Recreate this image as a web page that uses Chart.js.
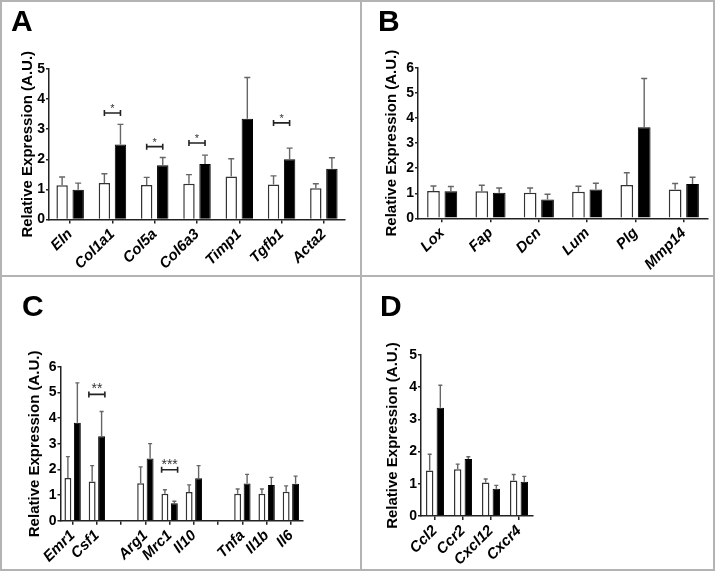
<!DOCTYPE html>
<html>
<head>
<meta charset="utf-8">
<script src="https://cdn.jsdelivr.net/npm/chart.js@4.4.1/dist/chart.umd.min.js"></script>
<style>
html,body{margin:0;padding:0;background:#fff;}
body{width:716px;height:572px;position:relative;overflow:hidden;font-family:"Liberation Sans",Arial,sans-serif;}
canvas{position:absolute;}
.frame{position:absolute;left:0;top:0;width:715px;height:571px;box-sizing:border-box;border:2px solid #b3b3b3;pointer-events:none;}
.vdiv{position:absolute;left:360px;top:0;width:2px;height:571px;background:#b3b3b3;}
.hdiv{position:absolute;left:0;top:275px;width:715px;height:2px;background:#b3b3b3;}
.letter{position:absolute;font:bold 30px/30px "Liberation Sans",Arial,sans-serif;color:#000;}
</style>
</head>
<body>
<canvas id="cA" width="360" height="276" style="left:0;top:0"></canvas>
<canvas id="cB" width="355" height="276" style="left:361px;top:0"></canvas>
<canvas id="cC" width="360" height="294" style="left:0;top:277px"></canvas>
<canvas id="cD" width="355" height="294" style="left:361px;top:277px"></canvas>
<div class="frame"></div><div class="vdiv"></div><div class="hdiv"></div>
<div class="letter" style="left:11px;top:6px">A</div>
<div class="letter" style="left:378px;top:6px">B</div>
<div class="letter" style="left:22px;top:291px">C</div>
<div class="letter" style="left:380px;top:291px">D</div>
<script>
// ---------- Panel A ----------
const catsA = ['Eln','Col1a1','Col5a','Col6a3','Timp1','Tgfb1','Acta2'];
const ctrlA = [1.14, 1.21, 1.15, 1.19, 1.43, 1.16, 1.04];
const ctrlAsd = [0.27, 0.31, 0.25, 0.30, 0.59, 0.29, 0.15];
const treatA = [0.99, 2.49, 1.80, 1.84, 3.35, 2.00, 1.69];
const treatAsd = [0.22, 0.67, 0.26, 0.30, 1.37, 0.37, 0.36];
const sigA = [{i:1, y:3.54, t:'*'}, {i:2, y:2.42, t:'*'}, {i:3, y:2.54, t:'*'}, {i:5, y:3.21, t:'*'}];
const ticksA = [0,1,2,3,4,5];

// ---------- Panel B ----------
const catsB = ['Lox','Fap','Dcn','Lum','Plg','Mmp14'];
const ctrlB = [1.09, 1.08, 1.02, 1.06, 1.33, 1.15];
const ctrlBsd = [0.20, 0.24, 0.19, 0.22, 0.49, 0.24];
const treatB = [1.08, 1.02, 0.75, 1.15, 3.63, 1.37];
const treatBsd = [0.19, 0.19, 0.21, 0.25, 1.95, 0.27];
const ticksB = [0,1,2,3,4,5,6];

// ---------- Panel C ----------
const catsC = ['Emr1','Csf1','','Arg1','Mrc1','Il10','','Tnfa','Il1b','Il6'];
const ctrlC = [1.67, 1.53, null, 1.46, 1.05, 1.12, null, 1.05, 1.05, 1.13];
const ctrlCsd = [0.83, 0.62, null, 0.64, 0.16, 0.28, null, 0.19, 0.19, 0.23];
const treatC = [3.82, 3.30, null, 2.43, 0.68, 1.66, null, 1.45, 1.39, 1.44];
const treatCsd = [1.56, 0.96, null, 0.58, 0.08, 0.49, null, 0.36, 0.30, 0.30];
const sigC = [{i:1, y:4.93, t:'**'}, {i:4, y:1.99, t:'***'}];
const ticksC = [0,1,2,3,4,5,6];

// ---------- Panel D ----------
const catsD = ['Ccl2','Ccr2','Cxcl12','Cxcr4'];
const ctrlD = [1.41, 1.45, 1.04, 1.10];
const ctrlDsd = [0.51, 0.16, 0.11, 0.19];
const treatD = [3.36, 1.77, 0.85, 1.06];
const treatDsd = [0.70, 0.07, 0.10, 0.17];
const ticksD = [0,1,2,3,4,5];

const FONT = '"Liberation Sans", Arial, sans-serif';

const errPlugin = {
  id: 'errbars',
  afterDatasetsDraw(chart, args, opts) {
    const ctx = chart.ctx, ys = chart.scales.y;
    chart.data.datasets.forEach((ds, di) => {
      const meta = chart.getDatasetMeta(di);
      meta.data.forEach((bar, i) => {
        const v = ds.data[i], sd = ds.sd[i];
        if (v == null || sd == null) return;
        const yt = ys.getPixelForValue(v + sd);
        const cap = opts.cap || 3;
        ctx.save();
        ctx.strokeStyle = '#666';
        ctx.lineWidth = 1.4;
        ctx.beginPath();
        ctx.moveTo(bar.x, bar.y);
        ctx.lineTo(bar.x, yt);
        ctx.moveTo(bar.x - cap, yt);
        ctx.lineTo(bar.x + cap, yt);
        ctx.stroke();
        ctx.restore();
      });
    });
    const sig = opts.sig || [];
    sig.forEach(s => {
      const a = chart.getDatasetMeta(0).data[s.i], b = chart.getDatasetMeta(1).data[s.i];
      const cx = (a.x + b.x) / 2, half = Math.max(Math.abs(b.x - a.x) / 2, 8);
      const y = ys.getPixelForValue(s.y);
      ctx.save();
      ctx.strokeStyle = '#222';
      ctx.lineWidth = 1.6;
      ctx.beginPath();
      ctx.moveTo(cx - half, y); ctx.lineTo(cx + half, y);
      ctx.moveTo(cx - half, y - 3); ctx.lineTo(cx - half, y + 3);
      ctx.moveTo(cx + half, y - 3); ctx.lineTo(cx + half, y + 3);
      ctx.stroke();
      ctx.fillStyle = '#333';
      ctx.font = (opts.starSize || 11) + 'px ' + FONT;
      ctx.textAlign = 'center';
      ctx.textBaseline = 'alphabetic';
      ctx.fillText(s.t, cx, y - 1);
      ctx.restore();
    });
  }
};

function makeChart(id, cfg) {
  const geo = cfg.geo;
  return new Chart(document.getElementById(id), {
    type: 'bar',
    data: {
      labels: cfg.cats,
      datasets: [
        {data: cfg.ctrl, sd: cfg.ctrlSd, backgroundColor: '#ffffff', borderColor: '#333', borderWidth: 1.5,
         barPercentage: cfg.barPct, categoryPercentage: cfg.catPct},
        {data: cfg.treat, sd: cfg.treatSd, backgroundColor: '#000000', borderColor: '#000', borderWidth: 1,
         barPercentage: cfg.barPct, categoryPercentage: cfg.catPct}
      ]
    },
    options: {
      responsive: false,
      animation: false,
      devicePixelRatio: 1,
      layout: {padding: {left: 0, top: geo.top, right: geo.right, bottom: 0}},
      plugins: {legend: {display: false}, tooltip: {enabled: false},
        errbars: {sig: cfg.sig, cap: cfg.cap, starSize: cfg.starSize}},
      scales: {
        x: {
          grid: {display: true, drawOnChartArea: false, drawTicks: true, tickLength: 4, offset: false, color: '#222', lineWidth: 1.5},
          border: {display: true, color: '#222', width: 1.5},
          ticks: {autoSkip: false, minRotation: 45, maxRotation: 45, padding: 2, color: '#000',
                  font: {family: FONT, size: 15, weight: 'bold', style: 'italic'}},
          afterFit(s) { s.height = geo.xh; }
        },
        y: {
          min: 0, max: cfg.ticks[cfg.ticks.length - 1],
          afterBuildTicks(s) { s.ticks = cfg.ticks.map(v => ({value: v})); },
          grid: {display: true, drawOnChartArea: false, drawTicks: true, tickLength: 3, color: '#222', lineWidth: 1.5},
          border: {display: true, color: '#222', width: 1.5},
          ticks: {padding: 1, color: '#000', font: {family: FONT, size: 14, weight: 'bold'}},
          title: {display: true, text: 'Relative Expression (A.U.)', color: '#000',
                  font: {family: FONT, size: 15, weight: 'bold'}, padding: {top: geo.tpad, bottom: 0}},
          afterFit(s) { s.width = geo.left; }
        }
      }
    },
    plugins: [errPlugin]
  });
}

makeChart('cA', {cats: catsA, ctrl: ctrlA, ctrlSd: ctrlAsd, treat: treatA, treatSd: treatAsd, sig: sigA, ticks: ticksA,
  barPct: 0.71, catPct: 0.76, cap: 3, starSize: 11,
  geo: {left: 49, top: 69, right: 15, xh: 56.5, tpad: 19}});
makeChart('cB', {cats: catsB, ctrl: ctrlB, ctrlSd: ctrlBsd, treat: treatB, treatSd: treatBsd, sig: [], ticks: ticksB,
  barPct: 0.73, catPct: 0.72, cap: 3,
  geo: {left: 57, top: 68, right: 8, xh: 57.7, tpad: 22}});
makeChart('cC', {cats: catsC, ctrl: ctrlC, ctrlSd: ctrlCsd, treat: treatC, treatSd: treatCsd, sig: sigC, ticks: ticksC,
  barPct: 0.73, catPct: 0.78, cap: 2, starSize: 14,
  geo: {left: 60.5, top: 90, right: 57, xh: 50.3, tpad: 26}});
makeChart('cD', {cats: catsD, ctrl: ctrlD, ctrlSd: ctrlDsd, treat: treatD, treatSd: treatDsd, sig: [], ticks: ticksD,
  barPct: 0.70, catPct: 0.76, cap: 2,
  geo: {left: 60, top: 78, right: 183, xh: 55, tpad: 23}});
</script>
</body>
</html>
